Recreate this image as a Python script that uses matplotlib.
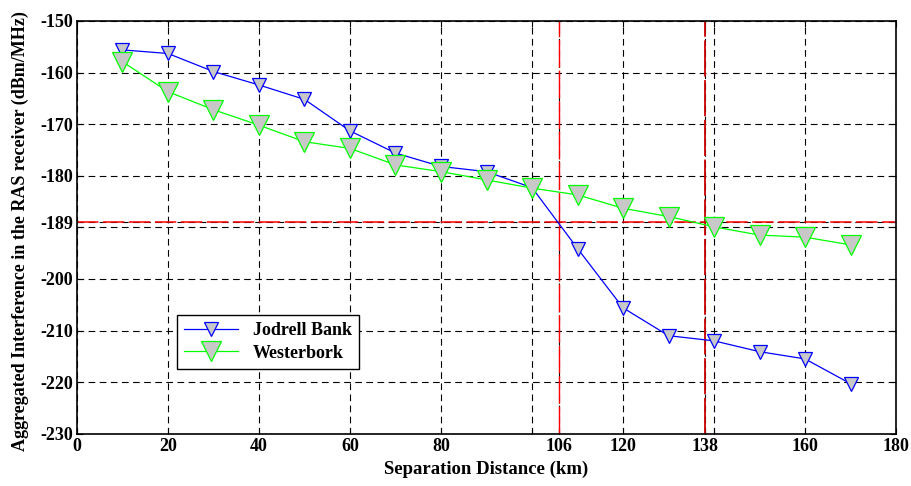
import matplotlib.pyplot as plt

# separation distance (km)
distance = [10, 20, 30, 40, 50, 60, 70, 80, 90, 100, 110, 120, 130, 140, 150, 160, 170]

# aggregated interference (dBm/MHz)
jodrell = [-155.6, -156.3, -159.8, -162.4, -165.2, -171.3, -175.6, -178.2, -179.2,
           -182.3, -194.1, -205.6, -211.0, -212.0, -214.1, -215.5, -220.3]
westerbork = [-157.9, -163.7, -167.2, -170.2, -173.4, -174.7, -177.9, -179.2, -180.8,
              -182.4, -183.7, -186.3, -187.9, -189.9, -191.5, -191.9, -193.4]

xticks = [0, 20, 40, 60, 80, 100, 106, 120, 138, 140, 160, 180]
xlabels = ['0', '20', '40', '60', '80', '', '106', '120', '138', '', '160', '180']
yticks = [-230, -220, -210, -200, -190, -189, -180, -170, -160, -150]
ylabels = ['-230', '-220', '-210', '-200', '', '-189', '-180', '-170', '-160', '-150']

# threshold lines
limit_level = -189
limit_dist = [106, 138]

plt.rcParams['font.family'] = ['Liberation Serif', 'DejaVu Serif']
plt.rcParams['font.weight'] = 'bold'

fig = plt.figure(figsize=(9.12, 4.86), dpi=100)
ax = fig.add_axes([0.0844, 0.1076, 0.8981, 0.8492])

# green drawn over blue, as in the original
ax.plot(distance, jodrell, color='#0000ff', lw=0.9, marker='v', ms=10,
        mfc='#c8c8c8', mec='#0000ff', mew=0.9, label='Jodrell Bank', zorder=3)
ax.plot(distance, westerbork, color='#00ff00', lw=0.9, marker='v', ms=15,
        mfc='#c8c8c8', mec='#00ff00', mew=0.9, label='Westerbork', zorder=4)

ax.axhline(limit_level, color='#ff0000', lw=1.1, ls=(0, (14, 3)), zorder=2)
ax.axvline(limit_dist[0], color='#ff0000', lw=1.0, ls=(0, (20, 2)), zorder=2)
ax.axvline(limit_dist[1], color='#cc0000', lw=1.3, ls=(0, (20, 2)), zorder=2)

ax.set_xlim(0, 180)
ax.set_ylim(-230, -150)
ax.set_xticks(xticks)
ax.set_xticklabels(xlabels)
ax.set_yticks(yticks)
ax.set_yticklabels(ylabels)
ax.grid(True, color='black', ls=(0, (6, 4)), lw=0.8)
ax.tick_params(direction='in', top=True, right=True, labelsize=13, length=4, pad=3)
for s in ax.spines.values():
    s.set_linewidth(1.2)

ax.set_xlabel('Separation Distance (km)', fontsize=13.5, fontweight='bold', labelpad=4)
ax.set_ylabel('Aggregated Interference in the RAS receiver (dBm/MHz)', fontsize=13,
              fontweight='bold')
ax.yaxis.set_label_coords(-0.058, 0.491)

leg = ax.legend(loc='lower left', bbox_to_anchor=(0.122, 0.157), fontsize=13,
                frameon=True, fancybox=False, edgecolor='black', framealpha=1,
                handlelength=3.0, borderpad=0.4, labelspacing=0.3, borderaxespad=0)
leg.get_frame().set_linewidth(1.0)

fig.savefig('out.png', dpi=100)
